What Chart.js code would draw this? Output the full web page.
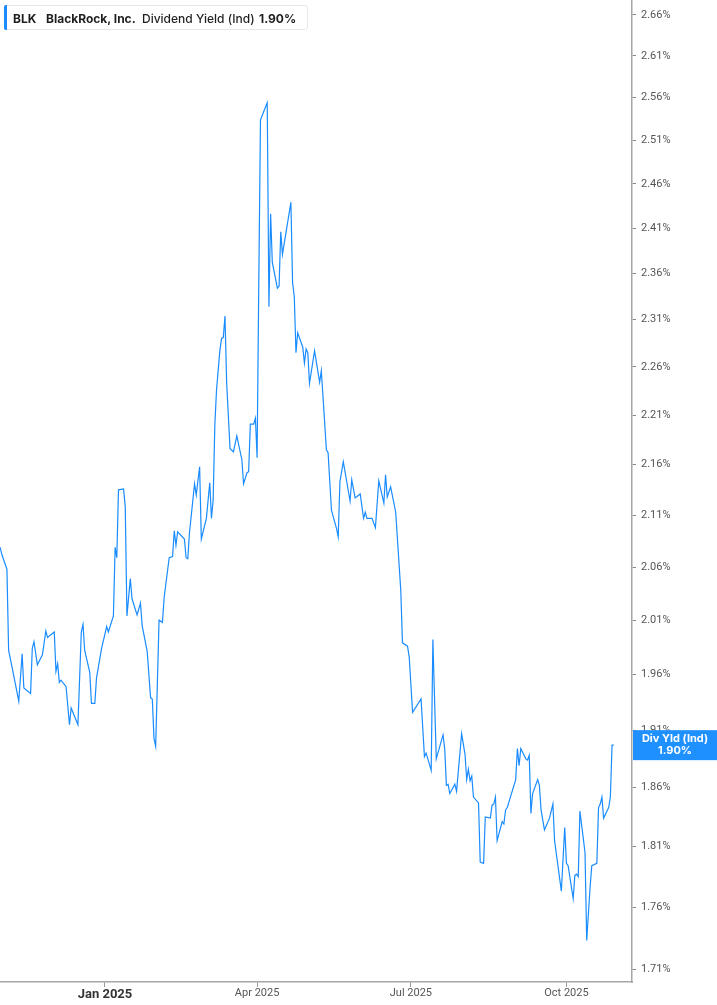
<!DOCTYPE html>
<html>
<head>
<meta charset="utf-8">
<script src="https://cdn.jsdelivr.net/npm/chart.js@4.4.1/dist/chart.umd.min.js"></script>
<style>
  html, body { margin: 0; padding: 0; background: #ffffff; overflow: hidden; }
  #wrap { position: relative; width: 717px; height: 1005px; }
  #c { display: block; }
  #legend {
    position: absolute; left: 4px; top: 5px; width: 304px; height: 25px;
    background: #fff; border: 1px solid #e8e8e8; border-radius: 3px;
    font-family: Inter, "Noto Sans", sans-serif; font-size: 12px; color: #1f1f1f;
    box-sizing: border-box;
  }
  #legend .bar { position: absolute; left: -1px; top: -1px; width: 3px; height: 25px; background: #1a8cff; border-radius: 2px 0 0 2px; }
  #legend span { position: absolute; top: 5px; white-space: nowrap; }
</style>
</head>
<body>
<div id="wrap">
  <canvas id="c" width="717" height="1005"></canvas>
  <div id="legend">
    <div class="bar"></div>
    <span id="lgTicker" style="left:8px;font-weight:700;"></span>
    <span id="lgName" style="left:41px;font-weight:700;"></span>
    <span id="lgMetric" style="left:137px;font-weight:500;"></span>
    <span id="lgValue" style="left:254px;font-weight:700;"></span>
  </div>
</div>
<script>
const ticker = 'BLK';
const companyName = 'BlackRock, Inc.';
const metricName = 'Dividend Yield (Ind)';
const endLabelName = 'Div Yld (Ind)';

const dates = [
 '2024-10-31','2024-11-01','2024-11-04','2024-11-05','2024-11-07','2024-11-11','2024-11-13','2024-11-14','2024-11-18','2024-11-19',
 '2024-11-20','2024-11-22','2024-11-25','2024-11-27','2024-11-28','2024-12-02','2024-12-03','2024-12-04','2024-12-05','2024-12-06',
 '2024-12-09','2024-12-11','2024-12-12','2024-12-16','2024-12-18','2024-12-19','2024-12-20','2024-12-23','2024-12-24','2024-12-26',
 '2024-12-27','2024-12-30','2025-01-02','2025-01-03','2025-01-06','2025-01-07','2025-01-08','2025-01-09','2025-01-12','2025-01-13',
 '2025-01-14','2025-01-16','2025-01-17','2025-01-20','2025-01-22','2025-01-23','2025-01-26','2025-01-28','2025-01-29','2025-01-30',
 '2025-01-31','2025-02-02','2025-02-04','2025-02-05','2025-02-08','2025-02-10','2025-02-11','2025-02-12','2025-02-13','2025-02-17',
 '2025-02-18','2025-02-19','2025-02-20','2025-02-23','2025-02-24','2025-02-26','2025-02-27','2025-03-02','2025-03-04','2025-03-05',
 '2025-03-06','2025-03-07','2025-03-08','2025-03-10','2025-03-11','2025-03-12','2025-03-13','2025-03-14','2025-03-16','2025-03-18',
 '2025-03-20','2025-03-23','2025-03-24','2025-03-26','2025-03-27','2025-03-28','2025-03-30','2025-03-31','2025-04-01','2025-04-02',
 '2025-04-03','2025-04-05','2025-04-07','2025-04-08','2025-04-09','2025-04-10','2025-04-13','2025-04-14','2025-04-15','2025-04-16',
 '2025-04-21','2025-04-22','2025-04-23','2025-04-24','2025-04-25','2025-04-28','2025-04-29','2025-04-30','2025-05-01','2025-05-02',
 '2025-05-05','2025-05-08','2025-05-09','2025-05-12','2025-05-13','2025-05-15','2025-05-18','2025-05-19','2025-05-20','2025-05-22',
 '2025-05-26','2025-05-27','2025-05-29','2025-06-01','2025-06-03','2025-06-04','2025-06-05','2025-06-08','2025-06-10','2025-06-12',
 '2025-06-15','2025-06-16','2025-06-17','2025-06-19','2025-06-22','2025-06-25','2025-06-26','2025-06-29','2025-06-30','2025-07-02',
 '2025-07-07','2025-07-09','2025-07-10','2025-07-13','2025-07-14','2025-07-16','2025-07-20','2025-07-21','2025-07-22','2025-07-23',
 '2025-07-24','2025-07-27','2025-07-28','2025-07-31','2025-08-02','2025-08-03','2025-08-04','2025-08-05','2025-08-06','2025-08-07',
 '2025-08-10','2025-08-11','2025-08-13','2025-08-14','2025-08-17','2025-08-18','2025-08-19','2025-08-20','2025-08-21','2025-08-24',
 '2025-08-25','2025-08-26','2025-08-27','2025-09-01','2025-09-02','2025-09-03','2025-09-04','2025-09-07','2025-09-08','2025-09-09',
 '2025-09-10','2025-09-11','2025-09-14','2025-09-15','2025-09-16','2025-09-18','2025-09-21','2025-09-23','2025-09-24','2025-09-28',
 '2025-09-30','2025-10-01','2025-10-02','2025-10-05','2025-10-06','2025-10-07','2025-10-08','2025-10-09','2025-10-12','2025-10-13',
 '2025-10-15','2025-10-16','2025-10-19','2025-10-20','2025-10-21','2025-10-22','2025-10-23','2025-10-25','2025-10-26','2025-10-27',
 '2025-10-28','2025-10-29'
];

const yields = [
 2.079,2.072,2.058,1.982,1.967,1.936,1.979,1.948,1.943,1.984,
 1.990,1.969,1.978,2.000,1.994,1.999,1.963,1.970,1.953,1.955,
 1.949,1.915,1.930,1.915,1.999,2.006,1.982,1.962,1.934,1.934,
 1.957,1.984,2.004,1.999,2.014,2.079,2.069,2.135,2.136,2.118,
 2.014,2.049,2.030,2.015,2.026,2.005,1.981,1.939,1.938,1.903,
 1.896,2.010,2.008,2.031,2.069,2.070,2.095,2.081,2.094,2.087,
 2.069,2.068,2.093,2.141,2.130,2.158,2.087,2.107,2.142,2.107,
 2.125,2.200,2.236,2.278,2.290,2.291,2.314,2.243,2.176,2.173,
 2.189,2.165,2.141,2.152,2.153,2.201,2.201,2.207,2.167,2.350,
 2.534,2.544,2.554,2.324,2.426,2.372,2.344,2.346,2.406,2.381,
 2.439,2.350,2.335,2.275,2.296,2.281,2.264,2.279,2.275,2.243,
 2.277,2.244,2.256,2.175,2.172,2.115,2.097,2.089,2.143,2.163,
 2.124,2.145,2.127,2.131,2.107,2.113,2.107,2.107,2.098,2.144,
 2.122,2.150,2.128,2.138,2.113,2.038,1.989,1.986,1.976,1.926,
 1.938,1.887,1.890,1.875,1.992,1.885,1.906,1.894,1.862,1.863,
 1.855,1.863,1.857,1.907,1.889,1.867,1.876,1.866,1.870,1.852,
 1.847,1.797,1.796,1.835,1.834,1.845,1.846,1.852,1.815,1.831,
 1.829,1.841,1.843,1.867,1.894,1.879,1.894,1.885,1.884,1.888,
 1.838,1.855,1.867,1.862,1.841,1.824,1.834,1.846,1.815,1.773,
 1.826,1.796,1.794,1.767,1.786,1.787,1.785,1.840,1.805,1.733,
 1.776,1.794,1.796,1.843,1.846,1.852,1.834,1.840,1.843,1.852,
 1.897,1.897
];

const yTickValues = [1.71,1.76,1.81,1.86,1.91,1.96,2.01,2.06,2.11,2.16,2.21,2.26,2.31,2.36,2.41,2.46,2.51,2.56,2.61,2.66];
const xTickDates = ['2025-01-01','2025-04-01','2025-07-01','2025-10-01'];
const xTickLabels = ['Jan 2025','Apr 2025','Jul 2025','Oct 2025'];

const BASE = Date.parse('2025-01-01T00:00:00Z');
function dayOf(s) { return (Date.parse(s + 'T00:00:00Z') - BASE) / 86400000; }

const points = dates.map((d, i) => ({ x: dayOf(d), y: yields[i] }));
const lastValue = yields[yields.length - 1];
const lastLabel = lastValue.toFixed(2) + '%';

document.getElementById('lgTicker').textContent = ticker;
document.getElementById('lgName').textContent = companyName;
document.getElementById('lgMetric').textContent = metricName;
document.getElementById('lgValue').textContent = lastLabel;

const LINE_COLOR = '#1a8cff';

const endLabelPlugin = {
  id: 'endLabel',
  afterDraw(chart) {
    const ctx = chart.ctx;
    const ys = chart.scales.y;
    const yp = ys.getPixelForValue(lastValue);
    const left = chart.chartArea.right + 1;
    const right = chart.width;
    ctx.save();
    ctx.fillStyle = '#1e90ff';
    ctx.fillRect(left, yp - 15, right - left, 30);
    ctx.fillStyle = '#ffffff';
    ctx.font = '700 11px Inter, "Noto Sans", sans-serif';
    ctx.textAlign = 'center';
    ctx.textBaseline = 'middle';
    const cx = (left + right) / 2;
    ctx.fillText(endLabelName, cx, yp - 6);
    ctx.fillText(lastLabel, cx, yp + 6);
    ctx.restore();
  }
};

new Chart(document.getElementById('c'), {
  type: 'line',
  data: {
    datasets: [{
      data: points,
      borderColor: LINE_COLOR,
      borderWidth: 1.2,
      pointRadius: 0,
      tension: 0,
      fill: false
    }]
  },
  options: {
    responsive: false,
    animation: false,
    parsing: false,
    layout: { padding: 0 },
    plugins: { legend: { display: false }, tooltip: { enabled: false } },
    scales: {
      x: {
        type: 'linear',
        min: dayOf('2024-10-31') - 0.1,
        max: dayOf('2025-11-08') + 0.8,
        grid: { drawOnChartArea: false, drawTicks: true, tickLength: 5, color: '#999' },
        border: { display: true, color: '#a6a6a6', width: 1.5 },
        afterBuildTicks(scale) { scale.ticks = xTickDates.map(d => ({ value: dayOf(d) })); },
        afterFit(scale) { scale.height = 23; scale.paddingLeft = 0; scale.paddingRight = 0; },
        ticks: {
          autoSkip: false,
          maxRotation: 0,
          padding: 0,
          color: (ctx) => (ctx.tick && ctx.tick.value === 0) ? '#333' : '#555',
          font: (ctx) => (ctx.tick && ctx.tick.value === 0)
            ? { family: 'Roboto, Inter, sans-serif', size: 13, weight: '700' }
            : { family: 'Roboto, Inter, sans-serif', size: 11, weight: '400' },
          callback: (v) => {
            const i = xTickDates.findIndex(d => dayOf(d) === v);
            return i >= 0 ? xTickLabels[i] : '';
          }
        }
      },
      y: {
        type: 'logarithmic',
        position: 'right',
        min: 1.7045,
        max: 2.6785,
        grid: { drawOnChartArea: false, drawTicks: true, tickLength: 4, color: '#888' },
        border: { display: true, color: '#a6a6a6', width: 1.5 },
        afterBuildTicks(scale) { scale.ticks = yTickValues.map(v => ({ value: v })); },
        afterFit(scale) { scale.width = 85; scale.paddingTop = 0; scale.paddingBottom = 0; },
        ticks: {
          autoSkip: false,
          padding: 5,
          color: '#555',
          font: { family: 'Roboto, Inter, sans-serif', size: 11 },
          callback: (v) => Number(v).toFixed(2) + '%'
        }
      }
    }
  },
  plugins: [endLabelPlugin]
});
</script>
</body>
</html>
